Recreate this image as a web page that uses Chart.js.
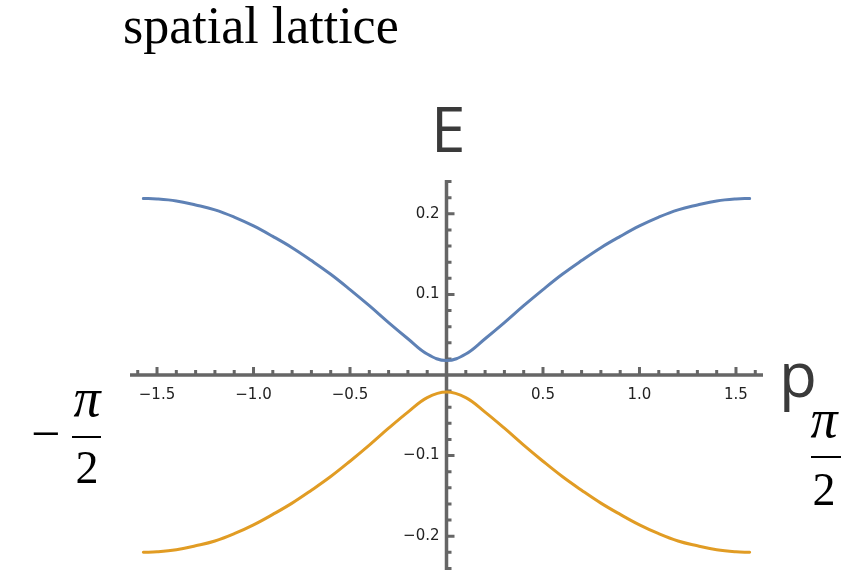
<!DOCTYPE html>
<html>
<head>
<meta charset="utf-8">
<title>spatial lattice</title>
<script src="https://cdn.jsdelivr.net/npm/chart.js@4.4.0/dist/chart.umd.min.js"></script>
<style>
  html, body { margin: 0; padding: 0; background: #fff; }
  #wrap { position: relative; width: 841px; height: 570px; }
</style>
</head>
<body>
<div id="wrap"><canvas id="bandChart"></canvas></div>
<script>
// dispersion of the two bands over the first Brillouin zone
const momentum = [-1.5708, -1.5, -1.4, -1.3, -1.2, -1.1, -1.0, -0.9, -0.8, -0.7, -0.6, -0.5, -0.4, -0.3, -0.2, -0.1,
  0, 0.1, 0.2, 0.3, 0.4, 0.5, 0.6, 0.7, 0.8, 0.9, 1.0, 1.1, 1.2, 1.3, 1.4, 1.5, 1.5708];
const upperBand = [0.219, 0.2185, 0.216, 0.211, 0.205, 0.196, 0.185, 0.172, 0.158, 0.142, 0.125, 0.106, 0.086, 0.065, 0.045, 0.026,
  0.018, 0.026, 0.045, 0.065, 0.086, 0.106, 0.125, 0.142, 0.158, 0.172, 0.185, 0.196, 0.205, 0.211, 0.216, 0.2185, 0.219];
const lowerBand = [-0.220, -0.2195, -0.217, -0.212, -0.206, -0.197, -0.186, -0.173, -0.159, -0.143, -0.126, -0.107, -0.087, -0.066, -0.046, -0.028,
  -0.021, -0.028, -0.046, -0.066, -0.087, -0.107, -0.126, -0.143, -0.159, -0.173, -0.186, -0.197, -0.206, -0.212, -0.217, -0.2195, -0.220];

const xTickLabels = [-1.5, -1.0, -0.5, 0.5, 1.0, 1.5];
const yTickLabels = [-0.2, -0.1, 0.1, 0.2];
const xMinorStep = 0.1;
const yMinorStep = 0.02;
const xRange = [-1.64, 1.64];
const yRange = [-0.242, 0.242];

const axisColor = '#666666';
const fmt = v => (v < 0 ? '\u2212' : '') + Math.abs(v).toFixed(1);

// Mathematica-style axes crossing at the origin
const crossAxes = {
  id: 'crossAxes',
  beforeDatasetsDraw(chart) {
    const { ctx, chartArea: area, scales: { x, y } } = chart;
    const x0 = x.getPixelForValue(0);
    const y0 = y.getPixelForValue(0);
    ctx.save();
    ctx.strokeStyle = axisColor;
    ctx.lineWidth = 3.5;
    ctx.beginPath();
    ctx.moveTo(area.left, y0); ctx.lineTo(area.right, y0);
    ctx.moveTo(x0, area.top); ctx.lineTo(x0, area.bottom);
    ctx.stroke();

    ctx.lineWidth = 3;
    ctx.beginPath();
    const nx = Math.floor(xRange[1] / xMinorStep);
    for (let i = -nx; i <= nx; i++) {
      if (i === 0) continue;
      const px = x.getPixelForValue(i * xMinorStep);
      const len = i % 5 === 0 ? 8 : 5;
      ctx.moveTo(px, y0); ctx.lineTo(px, y0 - len);
    }
    const ny = Math.floor(yRange[1] / yMinorStep);
    for (let j = -ny; j <= ny; j++) {
      if (j === 0) continue;
      const py = y.getPixelForValue(j * yMinorStep);
      const len = j % 5 === 0 ? 8 : 5;
      ctx.moveTo(x0, py); ctx.lineTo(x0 + len, py);
    }
    ctx.stroke();

    ctx.fillStyle = '#222';
    ctx.font = '15px "DejaVu Sans"';
    ctx.textAlign = 'center';
    ctx.textBaseline = 'alphabetic';
    xTickLabels.forEach(v => ctx.fillText(fmt(v), x.getPixelForValue(v), y0 + 24));
    ctx.textAlign = 'right';
    ctx.textBaseline = 'middle';
    yTickLabels.forEach(v => ctx.fillText(fmt(v), x0 - 7, y.getPixelForValue(v)));
    ctx.restore();
  },
  afterDraw(chart) {
    const { ctx } = chart;
    ctx.save();
    ctx.fillStyle = '#000';
    ctx.textBaseline = 'alphabetic';

    ctx.textAlign = 'left';
    ctx.font = '52px "Liberation Serif"';
    ctx.fillText('spatial lattice', 123, 43);

    // axis names
    ctx.fillStyle = '#3a3a3a';
    ctx.font = '62px "Open Sans"';
    ctx.fillText('E', 431, 152);
    ctx.fillText('p', 779, 397);

    // zone edges -pi/2 and pi/2
    ctx.fillStyle = '#000';
    ctx.strokeStyle = '#000';
    ctx.lineWidth = 2;
    ctx.font = '52px "Liberation Serif"';
    ctx.fillText('\u2212', 31, 451);
    ctx.textAlign = 'center';
    ctx.font = '46px "Liberation Serif"';
    ctx.fillText('2', 87, 483);
    ctx.fillText('2', 824, 505);
    ctx.font = 'italic 54px "Liberation Serif"';
    ctx.fillText('\u03c0', 87, 416);
    ctx.fillText('\u03c0', 824, 437);
    ctx.beginPath();
    ctx.moveTo(72, 437); ctx.lineTo(101, 437);
    ctx.moveTo(811, 457); ctx.lineTo(841, 457);
    ctx.stroke();
    ctx.restore();
  }
};

const toPoints = band => momentum.map((p, i) => ({ x: p, y: band[i] }));

new Chart(document.getElementById('bandChart'), {
  type: 'scatter',
  data: {
    datasets: [
      { data: toPoints(upperBand), borderColor: '#5E81B5', showLine: true },
      { data: toPoints(lowerBand), borderColor: '#E19C24', showLine: true }
    ]
  },
  options: {
    responsive: true,
    maintainAspectRatio: false,
    animation: false,
    layout: { padding: { left: 130, right: 78, top: 180, bottom: 0 } },
    elements: {
      point: { radius: 0 },
      line: { borderWidth: 3, tension: 0.4, borderCapStyle: 'round', borderJoinStyle: 'round', fill: false }
    },
    scales: {
      x: { type: 'linear', min: xRange[0], max: xRange[1], display: false },
      y: { type: 'linear', min: yRange[0], max: yRange[1], display: false }
    },
    plugins: { legend: { display: false }, tooltip: { enabled: false } }
  },
  plugins: [crossAxes]
});
</script>
</body>
</html>
